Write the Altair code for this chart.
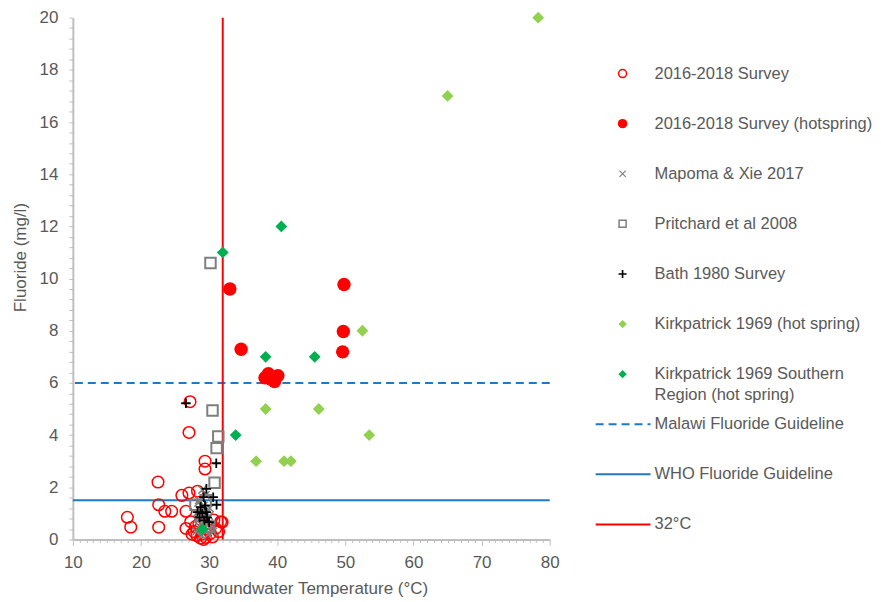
import altair as alt
import pandas as pd

# ---------------- data ----------------
survey_T = [27.2, 27.05, 29.4, 29.4, 22.5, 26.0, 27.05, 28.3, 22.6, 23.5, 24.5, 26.6,
            18.0, 18.5, 22.6, 31.9, 26.6, 27.3, 27.8, 28.0, 28.75, 29.5, 30.2, 30.95,
            31.4, 31.7, 30.7, 29.0, 28.5, 29.8, 27.5, 30.5, 29.2, 28.2]
survey_F = [5.28, 4.10, 3.00, 2.70, 2.20, 1.69, 1.78, 1.85, 1.33, 1.08, 1.08, 1.08,
            0.85, 0.47, 0.47, 0.66, 0.42, 0.68, 0.30, 0.49, 0.05, 0.08, 0.23, 0.42,
            0.30, 0.68, 0.74, 0.20, 0.60, 0.50, 0.20, 0.10, 0.00, 0.15]

hot_T = [33.05, 49.8, 49.7, 49.6, 34.7, 38.2, 38.7, 39.0, 39.6, 40.1, 38.5]
hot_F = [9.60, 9.77, 7.97, 7.19, 7.29, 6.20, 6.35, 6.15, 6.05, 6.28, 6.25]

mapoma_T = [29.0, 29.5, 28.5, 29.2, 28.8, 29.6, 30.0, 28.3, 29.0, 29.8, 30.3, 28.6,
            29.3, 28.1, 30.6, 29.9, 28.9, 30.1, 28.4, 29.4]
mapoma_F = [1.90, 1.70, 1.50, 1.30, 1.10, 1.00, 0.90, 0.80, 0.70, 0.60, 0.50, 0.50,
            0.40, 0.30, 0.30, 0.20, 0.15, 1.20, 1.40, 0.85]

pritchard_T = [30.2, 30.5, 31.35, 31.1, 30.8, 28.0, 29.5, 28.8, 30.0]
pritchard_F = [10.6, 4.94, 3.95, 3.50, 2.17, 1.33, 1.50, 0.90, 0.50]

bath_T = [26.6, 31.05, 29.6, 30.6, 31.1, 29.2, 28.75, 28.3, 29.6, 28.6, 29.7, 29.3,
          30.0, 29.0, 29.4]
bath_F = [5.22, 2.92, 1.94, 1.62, 1.33, 1.62, 1.24, 1.05, 1.05, 0.85, 0.85, 0.73,
          0.66, 1.00, 1.30]

kirk_T = [78.3, 65.0, 52.5, 38.3, 46.1, 53.5, 36.9, 41.0, 42.0]
kirk_F = [20.0, 17.0, 8.0, 5.0, 5.0, 4.0, 3.0, 3.0, 3.0]

kirk_s_T = [32.0, 40.6, 38.3, 45.5, 33.9, 29.0]
kirk_s_F = [11.0, 12.0, 7.0, 7.0, 4.0, 0.4]

malawi_guideline = [6.0]
who_guideline = [1.5]
temp_threshold = [32.0]

series_names = ["2016-2018 Survey", "2016-2018 Survey (hotspring)", "Mapoma & Xie 2017",
                "Pritchard et al 2008", "Bath 1980 Survey", "Kirkpatrick 1969 (hot spring)",
                "Kirkpatrick 1969 Southern\nRegion (hot spring)"]
line_names = ["Malawi Fluoride Guideline", "WHO Fluoride Guideline", "32°C"]

x_ticks = list(range(10, 81))
y_ticks = [round(i * 0.4, 1) for i in range(51)]

# ---------------- tables ----------------
series_data = [(survey_T, survey_F), (hot_T, hot_F), (mapoma_T, mapoma_F),
               (pritchard_T, pritchard_F), (bath_T, bath_F), (kirk_T, kirk_F),
               (kirk_s_T, kirk_s_F)]
rows = []
for name, (ts, fs) in zip(series_names, series_data):
    for t, f in zip(ts, fs):
        rows.append({"series": name, "T": t, "F": f})
points_df = pd.DataFrame(rows)

legend_labels = series_names + line_names
legend_df = pd.DataFrame({"label": legend_labels, "row": list(range(len(legend_labels)))})

# ---------------- styles ----------------
FONT = "Liberation Sans"
TXT = "#595959"
AX = "#bfbfbf"
RED = "#ff0000"
BLUE = "#1f78c8"
PLUS = "M-1,0L1,0M0,-1L0,1"
XMARK = "M-1,-1L1,1M-1,1L1,-1"

plot_style = {
    series_names[0]: dict(shape="circle", filled=False, color=RED, size=135, strokeWidth=1.5),
    series_names[1]: dict(shape="circle", filled=True, color=RED, size=180, strokeWidth=0),
    series_names[2]: dict(shape=XMARK, filled=False, color="#7f7f7f", size=60, strokeWidth=1.5),
    series_names[3]: dict(shape="square", filled=False, color="#7f7f7f", size=110, strokeWidth=2),
    series_names[4]: dict(shape=PLUS, filled=False, color="#000000", size=90, strokeWidth=1.8),
    series_names[5]: dict(shape="diamond", filled=True, color="#92d050", size=140, strokeWidth=0),
    series_names[6]: dict(shape="diamond", filled=True, color="#00b050", size=140, strokeWidth=0),
}
legend_style = {
    series_names[0]: dict(shape="circle", filled=False, color=RED, size=64, strokeWidth=1.5),
    series_names[1]: dict(shape="circle", filled=True, color=RED, size=90, strokeWidth=0),
    series_names[2]: dict(shape=XMARK, filled=False, color="#7f7f7f", size=40, strokeWidth=1.2),
    series_names[3]: dict(shape="square", filled=False, color="#7f7f7f", size=50, strokeWidth=1.5),
    series_names[4]: dict(shape=PLUS, filled=False, color="#000000", size=64, strokeWidth=1.6),
    series_names[5]: dict(shape="diamond", filled=True, color="#92d050", size=70, strokeWidth=0),
    series_names[6]: dict(shape="diamond", filled=True, color="#00b050", size=70, strokeWidth=0),
}
line_style = {
    line_names[0]: dict(color=BLUE, strokeWidth=2, strokeDash=[8, 5]),
    line_names[1]: dict(color=BLUE, strokeWidth=2),
    line_names[2]: dict(color=RED, strokeWidth=2),
}

axis_common = dict(grid=False, domainColor=AX, domainWidth=2, tickColor=AX, tickWidth=1,
                   labelFont=FONT, labelFontSize=17, labelColor=TXT, labelOverlap=False,
                   titleFont=FONT, titleFontSize=17, titleFontWeight="normal", titleColor=TXT)

x_axis = alt.Axis(values=x_ticks, format="d",
                  labelExpr="datum.value % 10 === 0 ? datum.label : ''",
                  tickSize={"condition": {"test": "datum.value % 10 === 0", "value": 6}, "value": 3},
                  labelFlush=False, labelPadding=9,
                  titleY=49, titleBaseline="middle", **axis_common)
y_axis = alt.Axis(values=y_ticks, format=".0f",
                  labelExpr="abs(datum.value / 2 - round(datum.value / 2)) < 0.001 ? datum.label : ''",
                  tickSize=4, labelPadding=11,
                  titleX=-52, titleY=240, titleAngle=270, titleAlign="center",
                  titleBaseline="middle", **axis_common)


def X():
    return alt.X("T:Q", scale=alt.Scale(domain=[10, 80], nice=False, zero=False),
                 axis=x_axis, title="Groundwater Temperature (°C)")


def Y():
    return alt.Y("F:Q", scale=alt.Scale(domain=[0, 20], nice=False, zero=False),
                 axis=y_axis, title="Fluoride (mg/l)")


layers = []
layers.append(alt.Chart(pd.DataFrame({"F": malawi_guideline}))
              .mark_rule(**line_style[line_names[0]]).encode(y=Y()))
layers.append(alt.Chart(pd.DataFrame({"F": who_guideline}))
              .mark_rule(**line_style[line_names[1]]).encode(y=Y()))
layers.append(alt.Chart(pd.DataFrame({"T": temp_threshold}))
              .mark_rule(**line_style[line_names[2]]).encode(x=X()))

base = alt.Chart(points_df).encode(x=X(), y=Y())
for name in series_names:
    layers.append(base.transform_filter(alt.datum.series == name)
                  .mark_point(opacity=1, **plot_style[name]))

main = alt.layer(*layers).properties(width=478, height=523)

# ---------------- legend panel ----------------
LY = alt.Y("row:Q", scale=alt.Scale(domain=[-1.115, 9.299], reverse=True, nice=False, zero=False),
           axis=None)
lbase = alt.Chart(legend_df)
leg_layers = []
for name in series_names:
    leg_layers.append(lbase.transform_filter(alt.datum.label == name)
                      .mark_point(opacity=1, **legend_style[name])
                      .encode(x=alt.value(27), y=LY))
for name in line_names:
    leg_layers.append(lbase.transform_filter(alt.datum.label == name)
                      .mark_rule(**line_style[name])
                      .encode(x=alt.value(0), x2=alt.value(55), y=LY))
leg_layers.append(lbase
                  .mark_text(align="left", baseline="middle", font=FONT, fontSize=16.5,
                             color=TXT, lineBreak="\n", lineHeight=21, clip=True)
                  .encode(x=alt.value(59), y=LY, text="label:N"))

legend_panel = alt.layer(*leg_layers).properties(width=278, height=523)

chart = (alt.hconcat(main, legend_panel, spacing=35)
         .properties(padding={"left": 4, "top": 0, "right": 0, "bottom": 0})
         .configure(font=FONT)
         .configure_view(strokeWidth=0, stroke="transparent"))

chart.save("out.html", embed_options={"renderer": "svg", "actions": False})
